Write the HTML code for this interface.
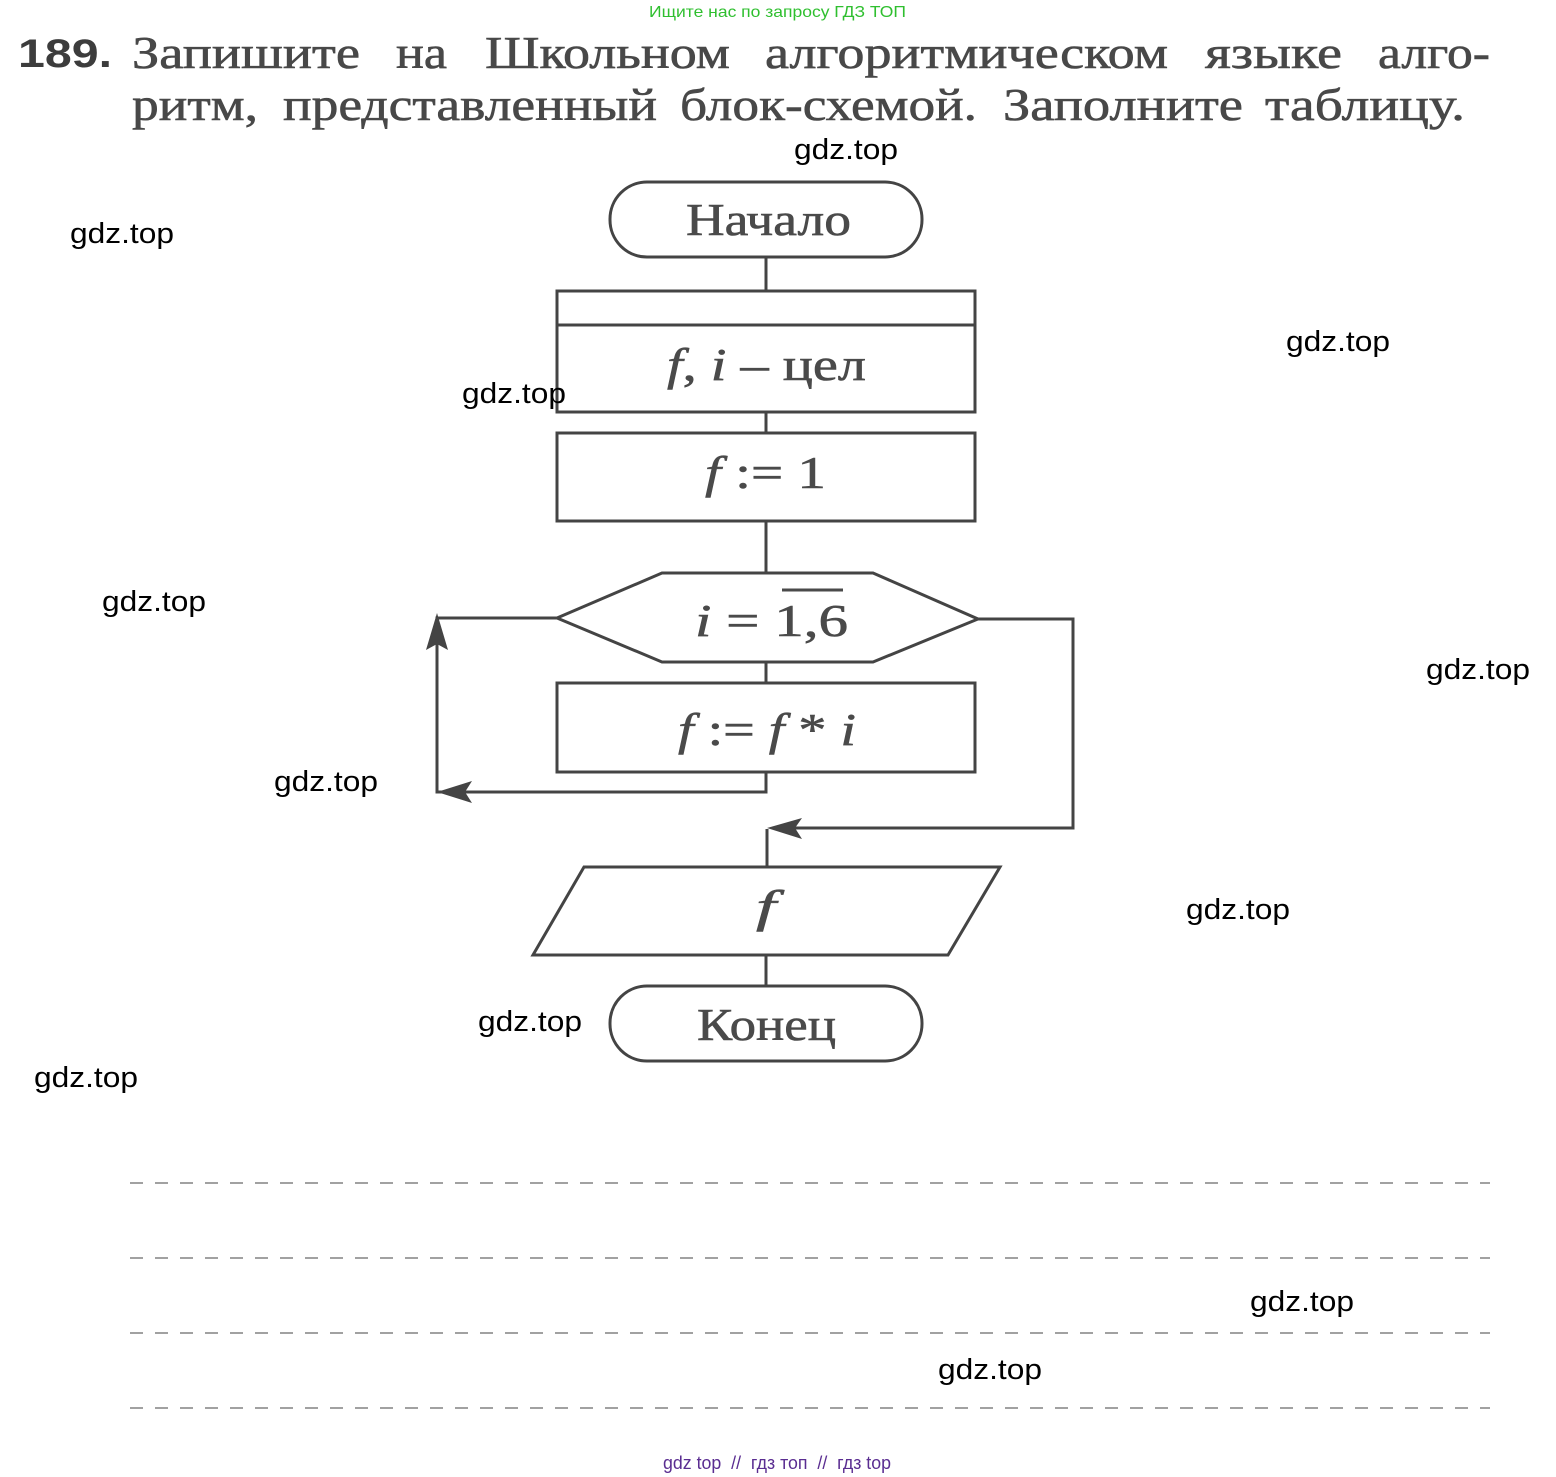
<!DOCTYPE html>
<html><head><meta charset="utf-8"><style>
html,body{margin:0;padding:0;background:#fff;}
svg{display:block;}
</style></head><body>
<svg xmlns="http://www.w3.org/2000/svg" width="1556" height="1477" viewBox="0 0 1556 1477">
<rect width="1556" height="1477" fill="#fff"/>
<!-- header -->
<text x="649" y="17" font-family="Liberation Sans, sans-serif" font-size="16" fill="#2fbf2f" textLength="257" lengthAdjust="spacingAndGlyphs">Ищите нас по запросу ГДЗ ТОП</text>

<!-- title -->
<g font-family="Liberation Serif, serif" font-size="46" fill="#484848" stroke="#484848" stroke-width="0.6">
<text x="18" y="67" font-family="Liberation Sans, sans-serif" font-weight="bold" font-size="40" fill="#3c3c3c" stroke="none" textLength="94" lengthAdjust="spacingAndGlyphs">189.</text>
<text x="132" y="68" textLength="228" lengthAdjust="spacingAndGlyphs">Запишите</text>
<text x="396" y="68" textLength="51" lengthAdjust="spacingAndGlyphs">на</text>
<text x="485" y="68" textLength="245" lengthAdjust="spacingAndGlyphs">Школьном</text>
<text x="765" y="68" textLength="403" lengthAdjust="spacingAndGlyphs">алгоритмическом</text>
<text x="1205" y="68" textLength="137" lengthAdjust="spacingAndGlyphs">языке</text>
<text x="1378" y="68" textLength="112" lengthAdjust="spacingAndGlyphs">алго-</text>
<text x="132" y="120" textLength="126" lengthAdjust="spacingAndGlyphs">ритм,</text>
<text x="283" y="120" textLength="374" lengthAdjust="spacingAndGlyphs">представленный</text>
<text x="680" y="120" textLength="297" lengthAdjust="spacingAndGlyphs">блок-схемой.</text>
<text x="1003" y="120" textLength="240" lengthAdjust="spacingAndGlyphs">Заполните</text>
<text x="1265" y="120" textLength="200" lengthAdjust="spacingAndGlyphs">таблицу.</text>
</g>

<!-- flowchart shapes -->
<g fill="none" stroke="#444" stroke-width="3" stroke-linejoin="miter">
<rect x="610" y="182" width="312" height="75" rx="37" ry="37"/>
<line x1="766" y1="257" x2="766" y2="291"/>
<rect x="557" y="291" width="418" height="121"/>
<line x1="557" y1="325" x2="975" y2="325"/>
<line x1="766" y1="412" x2="766" y2="433"/>
<rect x="557" y="433" width="418" height="88"/>
<line x1="766" y1="521" x2="766" y2="573"/>
<polygon points="557,618 662,573 873,573 978,619 873,662 662,662"/>
<line x1="766" y1="662" x2="766" y2="683"/>
<rect x="557" y="683" width="418" height="89"/>
<polyline points="766,772 766,792 437,792 437,618 557,618"/>
<polyline points="978,619 1073,619 1073,828 772,828"/>
<line x1="767" y1="829" x2="767" y2="867"/>
<polygon points="584,867 1000,867 948,955 533,955"/>
<line x1="766" y1="955" x2="766" y2="986"/>
<rect x="610" y="986" width="312" height="75" rx="37" ry="37"/>
</g>
<!-- arrowheads -->
<g fill="#444" stroke="none">
<polygon points="437,613 448,650 437,644 426,650"/>
<polygon points="437,792 472,781 465,792 472,803"/>
<polygon points="767,828 802,818 795,828 802,839"/>
</g>

<!-- flowchart texts -->
<g font-family="Liberation Serif, serif" fill="#4a4a4a" stroke="#4a4a4a" stroke-width="0.6">
<text x="686" y="235" font-size="46" textLength="165" lengthAdjust="spacingAndGlyphs">Начало</text>
<text x="667" y="380" font-size="46" textLength="199" lengthAdjust="spacingAndGlyphs"><tspan font-style="italic">f</tspan>, <tspan font-style="italic">i</tspan> – цел</text>
<text x="705" y="488" font-size="46" textLength="121" lengthAdjust="spacingAndGlyphs"><tspan font-style="italic">f</tspan> := 1</text>
<text x="695" y="636" font-size="46" textLength="153" lengthAdjust="spacingAndGlyphs"><tspan font-style="italic">i</tspan> = 1,6</text>
<line x1="782" y1="590" x2="843" y2="590" stroke="#4a4a4a" stroke-width="3"/>
<text x="678" y="745" font-size="46" textLength="178" lengthAdjust="spacingAndGlyphs"><tspan font-style="italic">f</tspan> := <tspan font-style="italic">f</tspan> * <tspan font-style="italic">i</tspan></text>
<text x="756" y="922" font-size="46" font-style="italic" textLength="20" lengthAdjust="spacingAndGlyphs">f</text>
<text x="697" y="1040" font-size="46" textLength="139" lengthAdjust="spacingAndGlyphs">Конец</text>
</g>

<!-- dashed answer lines -->
<g stroke="#8a8a8a" stroke-width="2" stroke-dasharray="13 12" opacity="0.8">
<line x1="130" y1="1183" x2="1490" y2="1183"/>
<line x1="130" y1="1258" x2="1490" y2="1258"/>
<line x1="130" y1="1333" x2="1490" y2="1333"/>
<line x1="130" y1="1408" x2="1490" y2="1408"/>
</g>

<!-- watermarks -->
<g font-family="Liberation Sans, sans-serif" font-size="29" fill="#000">
<text x="794" y="159" textLength="104" lengthAdjust="spacingAndGlyphs">gdz.top</text>
<text x="70" y="243" textLength="104" lengthAdjust="spacingAndGlyphs">gdz.top</text>
<text x="1286" y="351" textLength="104" lengthAdjust="spacingAndGlyphs">gdz.top</text>
<text x="462" y="403" textLength="104" lengthAdjust="spacingAndGlyphs">gdz.top</text>
<text x="102" y="611" textLength="104" lengthAdjust="spacingAndGlyphs">gdz.top</text>
<text x="1426" y="679" textLength="104" lengthAdjust="spacingAndGlyphs">gdz.top</text>
<text x="274" y="791" textLength="104" lengthAdjust="spacingAndGlyphs">gdz.top</text>
<text x="1186" y="919" textLength="104" lengthAdjust="spacingAndGlyphs">gdz.top</text>
<text x="478" y="1031" textLength="104" lengthAdjust="spacingAndGlyphs">gdz.top</text>
<text x="34" y="1087" textLength="104" lengthAdjust="spacingAndGlyphs">gdz.top</text>
<text x="1250" y="1311" textLength="104" lengthAdjust="spacingAndGlyphs">gdz.top</text>
<text x="938" y="1379" textLength="104" lengthAdjust="spacingAndGlyphs">gdz.top</text>
</g>

<!-- footer -->
<text x="663" y="1469" font-family="Liberation Sans, sans-serif" font-size="18" fill="#5a2d91" textLength="228" lengthAdjust="spacingAndGlyphs" xml:space="preserve">gdz top  //  гдз топ  //  гдз top</text>
</svg>
</body></html>
